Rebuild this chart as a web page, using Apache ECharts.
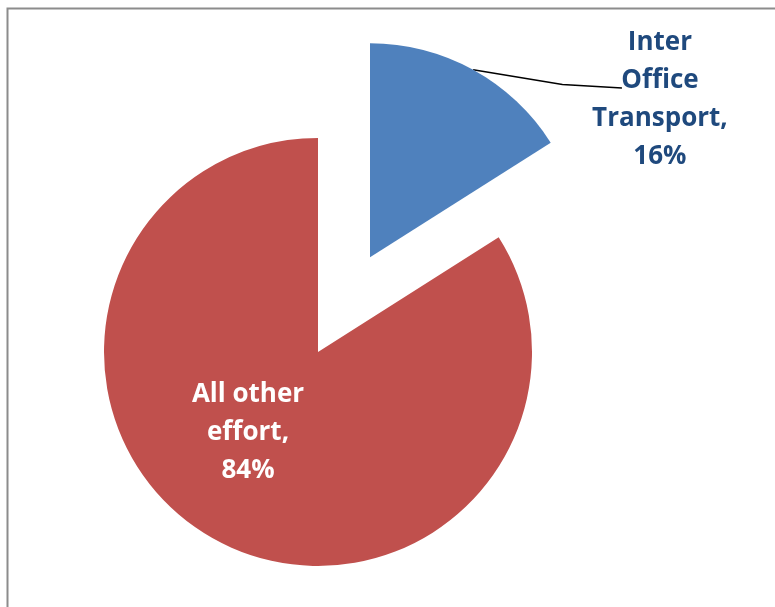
<!DOCTYPE html>
<html>
<head>
<meta charset="utf-8">
<script src="https://cdn.jsdelivr.net/npm/echarts@6/dist/echarts.min.js"></script>
<style>
html,body{margin:0;padding:0;background:#fff;}
#chart{width:775px;height:607px;}
</style>
</head>
<body>
<div id="chart"></div>
<script>
const categories = ['Inter\nOffice\nTransport', 'All other\neffort'];
const values = [16, 84];
const colors = ['#4F81BD', '#C0504D'];
const labelColors = ['#1F497D', '#FFFFFF'];

const FONT = 'Open Sans';
const FS = 26;
const chart = echarts.init(document.getElementById('chart'));
const data = categories.map((name, i) => ({
  name: name,
  value: values[i],
  selected: i === 0,
  itemStyle: { color: colors[i] },
  label: i === 0
    ? { position: 'outside' }
    : { position: 'inside' },
  labelLine: i === 0 ? { show: true, length: 10, length2: 107, lineStyle: { color: '#000', width: 1.5 } } : { show: false }
}));

function richFor(color) {
  return { width: 150, align: 'center', fontFamily: FONT, fontWeight: 'bold', fontSize: FS, lineHeight: 38, color: color };
}

chart.setOption({
  animation: false,
  graphic: [{
    type: 'rect',
    shape: { x: 7.5, y: 8.5, width: 800, height: 700 },
    style: { fill: 'none', stroke: '#8c8c8c', lineWidth: 2 },
    silent: true
  }],
  series: [{
    type: 'pie',
    center: [318, 352],
    radius: 214,
    startAngle: 90,
    clockwise: true,
    selectedMode: 'single',
    selectedOffset: 108,
    data: data,
    label: {
      show: true,
      formatter: p => (p.name + ',\n' + p.value + '%').split('\n').map(s => '{' + (p.dataIndex === 0 ? 'a' : 'b') + '|' + s + '}').join('\n'),
      rich: { a: richFor(labelColors[0]), b: richFor(labelColors[1]) }
    },
    labelLayout: function (params) {
      if (params.dataIndex === 0) {
        const dx = -5, dy = 39;
        const r = params.labelRect;
        const start = params.labelLinePoints ? params.labelLinePoints[0] : [r.x, r.y];
        const cx = r.x + r.width / 2 + dx;
        const end = [cx - 38, r.y + dy + 58];
        const mid = [start[0] + (end[0] - start[0]) * 0.6, start[1] + (end[1] - start[1]) * 0.8];
        return { dx: dx, dy: dy, labelLinePoints: [start, mid, end] };
      }
      return { x: 248, y: 433, align: 'center', verticalAlign: 'middle' };
    },
    emphasis: { disabled: true }
  }]
});
</script>
</body>
</html>
